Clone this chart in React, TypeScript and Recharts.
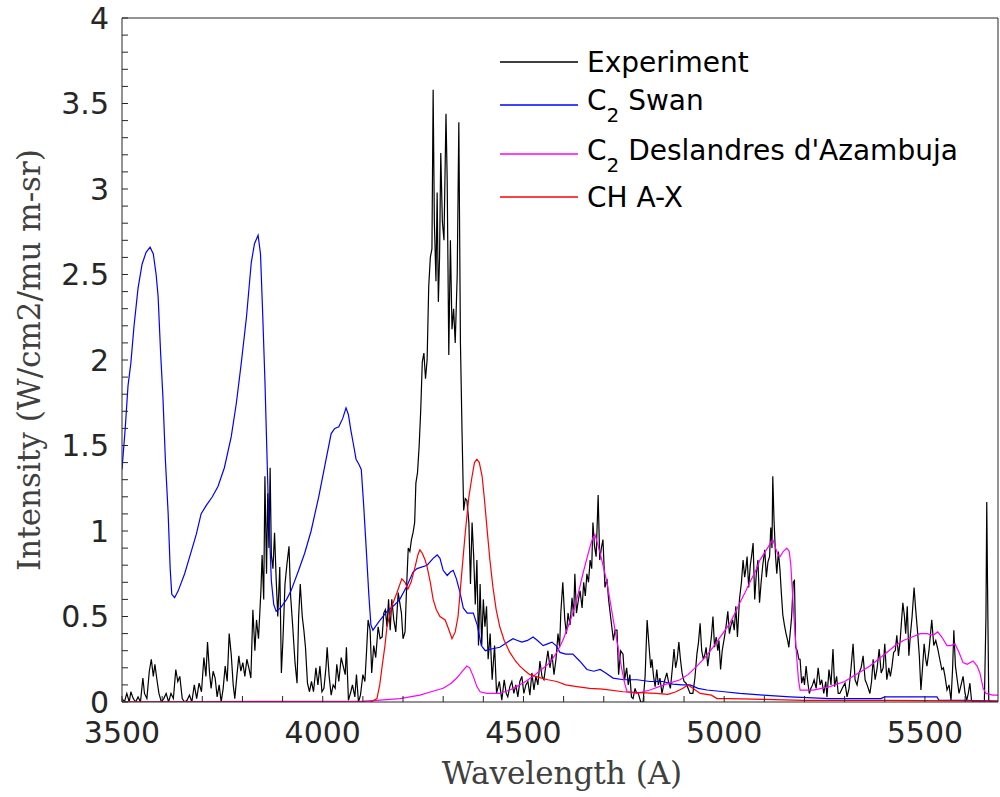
import { LineChart, Line, XAxis, YAxis, Legend } from 'recharts';

// [wavelength (A), intensity]
const experiment: [number, number][] = [
  [3500, 0.02], [3506, 0.0], [3512, 0.05], [3518, 0.0], [3522, 0.06], [3528, 0.02], [3534, 0.0], [3540, 0.03],
  [3546, 0.0], [3552, 0.14], [3556, 0.05], [3562, 0.02], [3568, 0.18], [3573, 0.25], [3578, 0.15], [3582, 0.22],
  [3587, 0.13], [3592, 0.05], [3598, 0.0], [3604, 0.02], [3610, 0.05], [3616, 0.0], [3622, 0.05], [3628, 0.02],
  [3634, 0.19], [3639, 0.12], [3644, 0.15], [3650, 0.02], [3656, 0.0], [3662, 0.01], [3668, 0.04], [3674, 0.0],
  [3680, 0.1], [3686, 0.02], [3692, 0.11], [3698, 0.06], [3704, 0.26], [3709, 0.15], [3713, 0.35], [3718, 0.17],
  [3722, 0.08], [3727, 0.18], [3732, 0.14], [3737, 0.03], [3742, 0.1], [3747, 0.0], [3752, 0.08], [3757, 0.21],
  [3762, 0.12], [3767, 0.4], [3772, 0.28], [3777, 0.1], [3781, 0.02], [3786, 0.15], [3791, 0.27], [3796, 0.18],
  [3801, 0.23], [3806, 0.15], [3811, 0.25], [3816, 0.2], [3821, 0.14], [3826, 0.54], [3831, 0.3], [3835, 0.48],
  [3840, 0.37], [3846, 0.65], [3849, 0.86], [3853, 0.6], [3856, 1.32], [3860, 0.75], [3863, 1.22], [3866, 0.9],
  [3869, 1.37], [3872, 0.86], [3876, 0.78], [3880, 0.99], [3884, 0.72], [3888, 0.5], [3893, 0.79], [3897, 0.17],
  [3901, 0.37], [3906, 0.69], [3911, 0.81], [3916, 0.91], [3920, 0.62], [3925, 0.45], [3931, 0.23], [3936, 0.11],
  [3940, 0.5], [3944, 0.69], [3949, 0.5], [3953, 0.42], [3957, 0.32], [3962, 0.11], [3967, 0.06], [3972, 0.12],
  [3977, 0.06], [3983, 0.2], [3988, 0.1], [3993, 0.21], [3998, 0.06], [4003, 0.08], [4008, 0.2], [4011, 0.32],
  [4016, 0.15], [4021, 0.04], [4026, 0.1], [4031, 0.08], [4035, 0.22], [4040, 0.12], [4046, 0.26], [4051, 0.21],
  [4056, 0.16], [4059, 0.32], [4064, 0.01], [4070, 0.06], [4074, 0.1], [4080, 0.03], [4084, 0.16], [4089, 0.0],
  [4094, 0.04], [4100, 0.16], [4105, 0.12], [4109, 0.29], [4113, 0.48], [4118, 0.42], [4122, 0.17], [4127, 0.33],
  [4132, 0.26], [4138, 0.44], [4143, 0.37], [4148, 0.38], [4152, 0.52], [4156, 0.54], [4160, 0.44], [4164, 0.6],
  [4168, 0.42], [4172, 0.6], [4177, 0.48], [4182, 0.41], [4188, 0.64], [4192, 0.58], [4196, 0.52], [4200, 0.37],
  [4205, 0.41], [4209, 0.68], [4213, 0.9], [4217, 0.88], [4221, 0.95], [4225, 0.99], [4229, 1.05], [4232, 1.28],
  [4236, 1.34], [4240, 1.49], [4244, 1.7], [4248, 1.99], [4252, 2.04], [4256, 1.89], [4260, 2.0], [4264, 2.43],
  [4268, 2.6], [4272, 2.65], [4275, 3.58], [4278, 2.81], [4282, 2.46], [4285, 2.98], [4288, 2.34], [4291, 2.6],
  [4294, 3.21], [4298, 2.81], [4302, 2.7], [4307, 3.44], [4310, 3.05], [4314, 2.03], [4318, 2.7], [4322, 2.18],
  [4326, 2.3], [4330, 2.1], [4335, 2.5], [4339, 3.39], [4343, 2.1], [4347, 1.58], [4351, 1.12], [4355, 1.19],
  [4359, 1.18], [4364, 1.05], [4368, 0.69], [4372, 1.05], [4376, 0.85], [4380, 0.57], [4384, 0.83], [4388, 0.33],
  [4392, 0.69], [4396, 0.33], [4400, 0.6], [4404, 0.44], [4408, 0.56], [4412, 0.25], [4417, 0.4], [4422, 0.13],
  [4428, 0.33], [4433, 0.05], [4440, 0.12], [4446, 0.01], [4452, 0.13], [4457, 0.05], [4461, 0.03], [4466, 0.09],
  [4471, 0.12], [4476, 0.05], [4481, 0.1], [4486, 0.03], [4491, 0.12], [4496, 0.15], [4501, 0.05], [4506, 0.1],
  [4511, 0.12], [4516, 0.04], [4521, 0.17], [4526, 0.07], [4531, 0.15], [4536, 0.1], [4541, 0.24], [4546, 0.15],
  [4551, 0.13], [4556, 0.22], [4561, 0.3], [4566, 0.2], [4571, 0.28], [4576, 0.16], [4581, 0.25], [4586, 0.4],
  [4590, 0.32], [4593, 0.52], [4598, 0.7], [4603, 0.48], [4607, 0.4], [4611, 0.52], [4616, 0.45], [4621, 0.61],
  [4625, 0.5], [4628, 0.75], [4632, 0.52], [4637, 0.6], [4641, 0.65], [4646, 0.55], [4650, 0.7], [4654, 0.62],
  [4658, 0.75], [4662, 0.7], [4666, 0.83], [4670, 0.78], [4673, 1.05], [4677, 0.91], [4681, 0.85], [4686, 1.21],
  [4690, 0.83], [4694, 0.9], [4698, 0.95], [4703, 0.67], [4708, 0.72], [4712, 0.6], [4716, 0.52], [4720, 0.44],
  [4724, 0.36], [4728, 0.42], [4733, 0.42], [4737, 0.16], [4742, 0.3], [4748, 0.28], [4752, 0.13], [4757, 0.2],
  [4761, 0.1], [4765, 0.16], [4769, 0.03], [4773, 0.02], [4778, 0.08], [4782, 0.05], [4786, 0.05], [4792, 0.0],
  [4798, 0.0], [4803, 0.15], [4808, 0.48], [4813, 0.32], [4817, 0.2], [4820, 0.25], [4824, 0.15], [4828, 0.09],
  [4832, 0.19], [4836, 0.1], [4840, 0.14], [4845, 0.05], [4851, 0.12], [4857, 0.17], [4862, 0.11], [4866, 0.08],
  [4871, 0.2], [4875, 0.31], [4879, 0.2], [4883, 0.25], [4887, 0.35], [4891, 0.25], [4895, 0.17], [4900, 0.12],
  [4905, 0.11], [4910, 0.08], [4915, 0.05], [4922, 0.05], [4927, 0.14], [4932, 0.28], [4936, 0.35], [4940, 0.46],
  [4944, 0.3], [4948, 0.25], [4952, 0.28], [4955, 0.32], [4959, 0.21], [4964, 0.3], [4968, 0.38], [4972, 0.5],
  [4976, 0.32], [4980, 0.38], [4984, 0.3], [4987, 0.36], [4991, 0.19], [4995, 0.3], [5002, 0.4], [5005, 0.45],
  [5009, 0.53], [5013, 0.4], [5017, 0.45], [5021, 0.48], [5025, 0.42], [5029, 0.56], [5033, 0.38], [5038, 0.6],
  [5043, 0.7], [5047, 0.83], [5051, 0.73], [5054, 0.78], [5057, 0.85], [5061, 0.67], [5065, 0.8], [5068, 0.85],
  [5072, 0.93], [5076, 0.6], [5080, 0.75], [5084, 0.83], [5088, 0.58], [5092, 0.7], [5096, 0.8], [5101, 0.89],
  [5105, 0.73], [5109, 0.82], [5113, 0.85], [5116, 1.02], [5119, 0.9], [5121, 1.32], [5124, 1.07], [5128, 0.85],
  [5131, 0.75], [5135, 0.88], [5139, 0.77], [5142, 0.65], [5146, 0.51], [5150, 0.45], [5154, 0.4], [5158, 0.36],
  [5161, 0.32], [5165, 0.42], [5168, 0.5], [5172, 0.7], [5175, 0.71], [5178, 0.32], [5182, 0.3], [5186, 0.25],
  [5189, 0.25], [5193, 0.11], [5197, 0.15], [5200, 0.1], [5204, 0.21], [5208, 0.12], [5212, 0.05], [5216, 0.08],
  [5220, 0.1], [5224, 0.13], [5229, 0.08], [5234, 0.2], [5239, 0.1], [5243, 0.13], [5248, 0.05], [5253, 0.12],
  [5256, 0.03], [5261, 0.19], [5266, 0.1], [5271, 0.31], [5275, 0.09], [5280, 0.15], [5284, 0.05], [5288, 0.05],
  [5294, 0.08], [5301, 0.11], [5306, 0.03], [5311, 0.08], [5316, 0.2], [5321, 0.34], [5326, 0.13], [5331, 0.1],
  [5336, 0.17], [5341, 0.2], [5346, 0.27], [5351, 0.13], [5356, 0.1], [5363, 0.05], [5367, 0.12], [5371, 0.25],
  [5376, 0.13], [5381, 0.2], [5386, 0.31], [5391, 0.17], [5396, 0.2], [5400, 0.34], [5405, 0.13], [5410, 0.2],
  [5414, 0.15], [5418, 0.21], [5422, 0.29], [5426, 0.3], [5430, 0.39], [5434, 0.27], [5438, 0.35], [5441, 0.45],
  [5445, 0.58], [5449, 0.5], [5452, 0.4], [5456, 0.56], [5460, 0.27], [5464, 0.4], [5468, 0.5], [5473, 0.67],
  [5477, 0.54], [5482, 0.4], [5486, 0.27], [5490, 0.07], [5494, 0.2], [5498, 0.34], [5502, 0.25], [5505, 0.21],
  [5510, 0.3], [5517, 0.48], [5522, 0.33], [5527, 0.36], [5532, 0.31], [5537, 0.25], [5542, 0.19], [5546, 0.2],
  [5550, 0.15], [5555, 0.07], [5560, 0.1], [5565, 0.01], [5569, 0.2], [5572, 0.42], [5576, 0.21], [5581, 0.12],
  [5585, 0.05], [5590, 0.1], [5595, 0.15], [5600, 0.05], [5604, 0.01], [5608, 0.05], [5612, 0.11], [5616, 0.01],
  [5620, 0.0], [5630, 0.0], [5640, 0.0], [5648, 0.0], [5652, 0.5], [5654, 1.17], [5656, 0.67], [5659, 0.01],
  [5665, 0.0], [5670, 0.0], [5682, 0.0],
];

const c2Swan: [number, number][] = [
  [3500, 1.36], [3508, 1.6], [3515, 1.85], [3522, 1.98], [3530, 2.2], [3540, 2.42], [3550, 2.56], [3560, 2.63],
  [3570, 2.66], [3578, 2.62], [3585, 2.5], [3590, 2.37], [3596, 2.05], [3602, 1.78], [3608, 1.42], [3615, 1.1],
  [3620, 0.78], [3624, 0.63], [3631, 0.61], [3640, 0.65], [3656, 0.75], [3670, 0.86], [3685, 0.98], [3697, 1.1],
  [3710, 1.15], [3725, 1.2], [3739, 1.26], [3755, 1.37], [3772, 1.55], [3785, 1.75], [3797, 1.98], [3810, 2.25],
  [3822, 2.57], [3830, 2.68], [3839, 2.73], [3845, 2.62], [3850, 2.3], [3856, 1.88], [3864, 1.2], [3872, 0.71],
  [3878, 0.57], [3884, 0.53], [3895, 0.55], [3910, 0.6], [3921, 0.65], [3940, 0.77], [3955, 0.87], [3971, 1.0],
  [3990, 1.2], [4005, 1.38], [4021, 1.57], [4030, 1.6], [4040, 1.61], [4050, 1.66], [4058, 1.72], [4064, 1.68],
  [4070, 1.59], [4077, 1.5], [4083, 1.42], [4090, 1.39], [4096, 1.36], [4102, 1.15], [4108, 0.91], [4115, 0.62],
  [4120, 0.45], [4125, 0.42], [4140, 0.47], [4160, 0.53], [4180, 0.57], [4192, 0.6], [4210, 0.68], [4225, 0.76],
  [4235, 0.78], [4260, 0.8], [4275, 0.84], [4285, 0.86], [4292, 0.84], [4300, 0.77], [4310, 0.74], [4318, 0.76],
  [4325, 0.77], [4333, 0.72], [4342, 0.64], [4350, 0.55], [4360, 0.52], [4375, 0.52], [4385, 0.45], [4395, 0.33],
  [4405, 0.3], [4420, 0.31], [4441, 0.32], [4460, 0.35], [4474, 0.37], [4485, 0.36], [4496, 0.35], [4510, 0.36],
  [4524, 0.38], [4535, 0.36], [4549, 0.33], [4560, 0.34], [4571, 0.35], [4581, 0.33], [4591, 0.29], [4605, 0.28],
  [4623, 0.28], [4640, 0.24], [4658, 0.19], [4675, 0.18], [4691, 0.19], [4705, 0.17], [4723, 0.14], [4750, 0.13],
  [4783, 0.13], [4815, 0.12], [4847, 0.12], [4872, 0.105], [4895, 0.1], [4915, 0.1], [4935, 0.08], [4957, 0.07],
  [5000, 0.06], [5039, 0.05], [5097, 0.04], [5164, 0.03], [5263, 0.02], [5330, 0.02], [5390, 0.02], [5400, 0.03],
  [5480, 0.03], [5530, 0.03], [5535, 0.01], [5600, 0.01], [5682, 0.005],
];

const c2Deslandres: [number, number][] = [
  [3500, 0], [3700, 0.003], [4100, 0.005], [4135, 0.01], [4192, 0.02], [4242, 0.04], [4270, 0.06], [4300, 0.08],
  [4320, 0.11], [4334, 0.14], [4348, 0.18], [4359, 0.21], [4366, 0.2], [4375, 0.15], [4384, 0.09], [4392, 0.06],
  [4409, 0.05], [4441, 0.05], [4466, 0.07], [4483, 0.09], [4505, 0.12], [4524, 0.15], [4545, 0.19], [4566, 0.23],
  [4583, 0.29], [4598, 0.36], [4611, 0.44], [4623, 0.52], [4636, 0.63], [4648, 0.75], [4658, 0.84], [4666, 0.91],
  [4673, 0.96], [4678, 0.98], [4684, 0.93], [4691, 0.87], [4700, 0.78], [4708, 0.7], [4718, 0.56], [4728, 0.42],
  [4737, 0.3], [4745, 0.19], [4752, 0.11], [4758, 0.06], [4783, 0.05], [4815, 0.07], [4850, 0.1], [4890, 0.13],
  [4910, 0.16], [4932, 0.21], [4952, 0.26], [4972, 0.32], [4993, 0.39], [5014, 0.46], [5027, 0.52], [5039, 0.58],
  [5052, 0.64], [5064, 0.7], [5077, 0.76], [5089, 0.83], [5105, 0.89], [5121, 0.95], [5128, 0.9], [5134, 0.86],
  [5139, 0.85], [5147, 0.88], [5156, 0.9], [5162, 0.88], [5166, 0.8], [5172, 0.56], [5177, 0.38], [5181, 0.25],
  [5185, 0.13], [5189, 0.07], [5222, 0.07], [5263, 0.09], [5300, 0.12], [5321, 0.15], [5342, 0.18], [5363, 0.21],
  [5384, 0.25], [5405, 0.29], [5426, 0.33], [5446, 0.36], [5468, 0.38], [5488, 0.4], [5505, 0.4], [5520, 0.39],
  [5532, 0.41], [5542, 0.38], [5555, 0.33], [5565, 0.33], [5575, 0.34], [5585, 0.29], [5595, 0.23], [5605, 0.22],
  [5620, 0.24], [5630, 0.21], [5637, 0.17], [5645, 0.08], [5652, 0.05], [5669, 0.04], [5682, 0.04],
];

const chAX: [number, number][] = [
  [3500, 0], [4120, 0], [4135, 0.02], [4142, 0.1], [4148, 0.21], [4155, 0.33], [4160, 0.44], [4172, 0.56],
  [4185, 0.64], [4197, 0.72], [4205, 0.7], [4212, 0.66], [4220, 0.7], [4230, 0.79], [4237, 0.86], [4242, 0.89],
  [4248, 0.87], [4255, 0.83], [4260, 0.79], [4268, 0.7], [4275, 0.6], [4283, 0.54], [4292, 0.5], [4305, 0.48],
  [4313, 0.43], [4322, 0.37], [4330, 0.41], [4337, 0.5], [4345, 0.72], [4355, 0.99], [4364, 1.2], [4372, 1.32],
  [4378, 1.4], [4384, 1.42], [4390, 1.4], [4397, 1.32], [4403, 1.18], [4409, 1.02], [4416, 0.84], [4424, 0.67],
  [4432, 0.54], [4441, 0.44], [4452, 0.36], [4466, 0.29], [4480, 0.24], [4491, 0.21], [4505, 0.18], [4516, 0.16],
  [4530, 0.15], [4545, 0.14], [4561, 0.13], [4583, 0.12], [4605, 0.1], [4633, 0.09], [4665, 0.08], [4698, 0.075],
  [4748, 0.06], [4790, 0.055], [4830, 0.05], [4860, 0.045], [4880, 0.06], [4897, 0.08], [4910, 0.1], [4922, 0.08],
  [4940, 0.05], [4968, 0.04], [4982, 0.02], [5014, 0.02], [5100, 0.015], [5200, 0.01], [5400, 0.01], [5682, 0.005],
];

const seriesNames = ['Experiment', 'C_2 Swan', "C_2 Deslandres d'Azambuja", 'CH A-X'];
const seriesColors = ['#000000', '#0000ff', '#ff00ff', '#ff0000'];

const xTicks = [3500, 3600, 3700, 3800, 3900, 4000, 4100, 4200, 4300, 4400, 4500, 4600, 4700, 4800, 4900, 5000, 5100, 5200, 5300, 5400, 5500, 5600];
const xLabelTicks = [3500, 4000, 4500, 5000, 5500];
const yTicks = [
  0, 0.1, 0.2, 0.3, 0.4, 0.5, 0.6, 0.7, 0.8, 0.9, 1, 1.1, 1.2, 1.3, 1.4, 1.5, 1.6, 1.7, 1.8, 1.9, 2,
  2.1, 2.2, 2.3, 2.4, 2.5, 2.6, 2.7, 2.8, 2.9, 3, 3.1, 3.2, 3.3, 3.4, 3.5, 3.6, 3.7, 3.8, 3.9, 4,
];
const yLabelTicks = [0, 0.5, 1, 1.5, 2, 2.5, 3, 3.5, 4];

const toPoints = (rows: [number, number][]) => rows.map(([wave, intensity]) => ({ wave, intensity }));
const allSeries = [experiment, c2Swan, c2Deslandres, chAX].map(toPoints);

const axisColor = '#262626';
const tickFont = { fill: axisColor, fontSize: 30, fontFamily: 'DejaVu Sans' };

// name with "_2" becomes a subscript
const LegendName = ({ name, x, y }: { name: string; x: number; y: number }) => {
  const parts = name.split('_');
  if (parts.length === 1) {
    return <text x={x} y={y} fontSize={28} fontFamily="DejaVu Sans" fill="#000">{name}</text>;
  }
  const sub = parts[1].slice(0, 1);
  const rest = parts[1].slice(1);
  return (
    <text x={x} y={y} fontSize={28} fontFamily="DejaVu Sans" fill="#000">
      {parts[0]}
      <tspan dy={12} fontSize={20}>{sub}</tspan>
      <tspan dy={-12}>{rest}</tspan>
    </text>
  );
};

const legendRows = [
  { line: 22, text: 32 },
  { line: 65, text: 70 },
  { line: 114, text: 120 },
  { line: 157, text: 167 },
];

const renderLegend = (props: any) => {
  const items = (props.payload || [])
    .filter((p: any) => seriesNames.includes(p.value))
    .sort((a: any, b: any) => seriesNames.indexOf(a.value) - seriesNames.indexOf(b.value));
  return (
    <svg width={480} height={185}>
      {items.map((item: any, i: number) => (
        <g key={item.value}>
          <line x1={2} x2={80} y1={legendRows[i].line} y2={legendRows[i].line} stroke={item.color} strokeWidth={1.3} />
          <LegendName name={item.value} x={89} y={legendRows[i].text} />
        </g>
      ))}
    </svg>
  );
};

export default function App() {
  return (
    <div style={{ position: 'absolute', left: 0, top: 0, background: '#fff' }}>
      <LineChart width={1000} height={797} margin={{ top: 0, right: 0, bottom: 0, left: 0 }}>
        <XAxis
          xAxisId="bottom"
          dataKey="wave"
          type="number"
          domain={[3500, 5682]}
          allowDataOverflow
          ticks={xTicks}
          interval={0}
          height={95}
          stroke={axisColor}
          tickSize={-6}
          tickMargin={26}
          tick={tickFont}
          tickFormatter={(v: number) => (xLabelTicks.includes(v) ? String(v) : '')}
          label={{
            content: () => (
              <text x={562} y={784} textAnchor="middle" fontSize={31} fontFamily="DejaVu Serif" fill="#404040">
                Wavelength (A)
              </text>
            ),
          }}
        />
        <XAxis
          xAxisId="top"
          orientation="top"
          dataKey="wave"
          type="number"
          domain={[3500, 5682]}
          allowDataOverflow
          ticks={xTicks}
          interval={0}
          height={18}
          stroke={axisColor}
          tickSize={-6}
          tick={false}
        />
        <YAxis
          yAxisId="left"
          type="number"
          domain={[0, 4]}
          allowDataOverflow
          ticks={yTicks}
          interval={0}
          width={122}
          stroke={axisColor}
          tickSize={-6}
          tickMargin={19}
          tick={tickFont}
          tickFormatter={(v: number) => (yLabelTicks.includes(v) ? String(v) : '')}
          label={{
            content: () => (
              <text
                x={40}
                y={360}
                transform="rotate(-90 40 360)"
                textAnchor="middle"
                fontSize={31}
                fontFamily="DejaVu Serif"
                fill="#404040"
              >
                Intensity (W/cm2/mu m-sr)
              </text>
            ),
          }}
        />
        <YAxis
          yAxisId="right"
          orientation="right"
          type="number"
          domain={[0, 4]}
          allowDataOverflow
          ticks={yLabelTicks}
          interval={0}
          width={2}
          stroke={axisColor}
          tickSize={-6}
          tick={false}
        />
        <Legend
          layout="vertical"
          align="center"
          verticalAlign="middle"
          wrapperStyle={{ left: 498, top: 40, width: 480 }}
          content={renderLegend}
        />
        {/* keeps the top/right frame axes tied to data */}
        <Line
          xAxisId="top"
          yAxisId="right"
          data={allSeries[0]}
          dataKey="intensity"
          stroke="none"
          dot={false}
          legendType="none"
          isAnimationActive={false}
        />
        {allSeries.map((points, i) => (
          <Line
            key={seriesNames[i]}
            xAxisId="bottom"
            yAxisId="left"
            data={points}
            dataKey="intensity"
            name={seriesNames[i]}
            type="linear"
            stroke={seriesColors[i]}
            strokeWidth={1.2}
            dot={false}
            activeDot={false}
            isAnimationActive={false}
          />
        ))}
      </LineChart>
    </div>
  );
}
